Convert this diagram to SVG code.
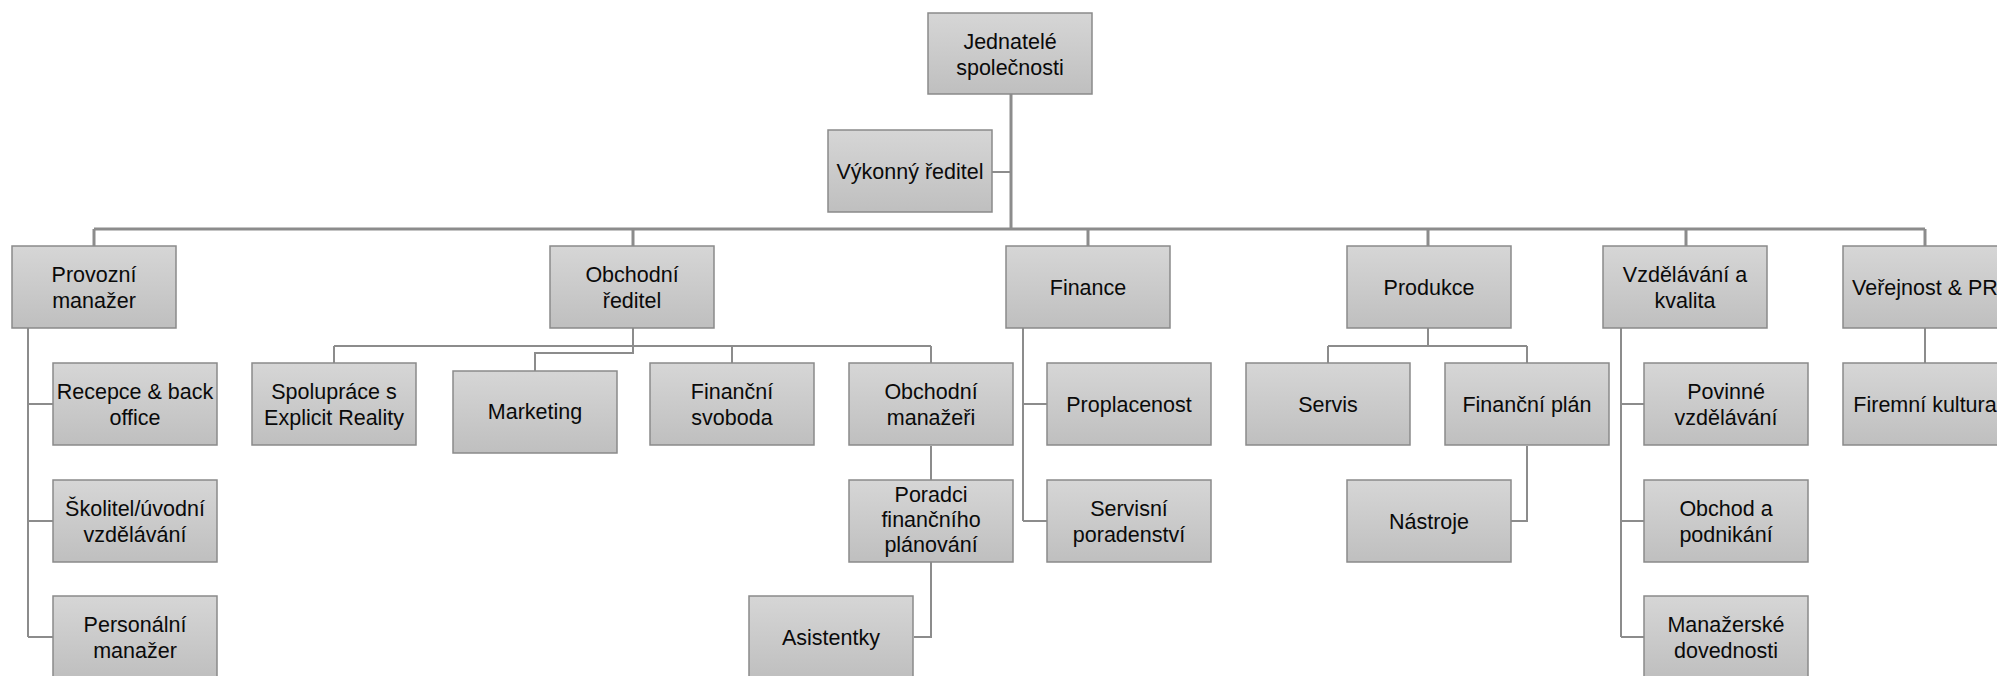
<svg xmlns="http://www.w3.org/2000/svg" width="1997" height="676" viewBox="0 0 1997 676">
<defs>
<linearGradient id="g" x1="0" y1="0" x2="0" y2="1">
<stop offset="0" stop-color="#d6d6d6"/>
<stop offset="1" stop-color="#bfbfbf"/>
</linearGradient>
<style>
.box{fill:url(#g);stroke:#8a8a8a;stroke-width:1.5}
.t{font-family:"Liberation Sans",Arial,sans-serif;font-size:21.5px;fill:#0a0a0a;text-anchor:middle}
.c{fill:none;stroke:#8c8c8c;stroke-width:2}
.cm{fill:none;stroke:#8c8c8c;stroke-width:3}
</style>
</defs>
<rect width="1997" height="676" fill="#fff"/>
<g id="connectors">
<path class="cm" d="M1011 94 V229 M94 229 H1925 M94 229 V246 M633 229 V246 M1088 229 V246 M1428 229 V246 M1686 229 V246 M1925 229 V246"/>
<path class="c" d="M992 172 H1011"/>
<path class="c" d="M28 328 V637 M28 404 H53 M28 521 H53 M28 637 H53"/>
<path class="c" d="M633 328 V353 H535 V371 M334 346 H931 M334 346 V363 M732 346 V363 M931 346 V363"/>
<path class="c" d="M931 446 V480 M931 562 V637 H914"/>
<path class="c" d="M1023 328 V521 M1023 404 H1047 M1023 521 H1047"/>
<path class="c" d="M1428 328 V346 M1328 346 H1527 M1328 346 V363 M1527 346 V363 M1527 446 V521 H1511"/>
<path class="c" d="M1621 328 V637 M1621 404 H1644 M1621 521 H1644 M1621 637 H1644"/>
<path class="c" d="M1925 328 V363"/>
</g>
<g id="jednatele"><rect class="box" x="928" y="13" width="164" height="81"/><text class="t" x="1010" y="49">Jednatelé</text><text class="t" x="1010" y="75">společnosti</text></g>
<g id="vykonny"><rect class="box" x="828" y="130" width="164" height="82"/><text class="t" x="910" y="179">Výkonný ředitel</text></g>
<g id="provozni"><rect class="box" x="12" y="246" width="164" height="82"/><text class="t" x="94" y="282">Provozní</text><text class="t" x="94" y="308">manažer</text></g>
<g id="recepce"><rect class="box" x="53" y="363" width="164" height="82"/><text class="t" x="135" y="399">Recepce &amp; back</text><text class="t" x="135" y="425">office</text></g>
<g id="skolitel"><rect class="box" x="53" y="480" width="164" height="82"/><text class="t" x="135" y="516">Školitel/úvodní</text><text class="t" x="135" y="542">vzdělávání</text></g>
<g id="personalni"><rect class="box" x="53" y="596" width="164" height="82"/><text class="t" x="135" y="632">Personální</text><text class="t" x="135" y="658">manažer</text></g>
<g id="obchodni-reditel"><rect class="box" x="550" y="246" width="164" height="82"/><text class="t" x="632" y="282">Obchodní</text><text class="t" x="632" y="308">ředitel</text></g>
<g id="spoluprace"><rect class="box" x="252" y="363" width="164" height="82"/><text class="t" x="334" y="399">Spolupráce s</text><text class="t" x="334" y="425">Explicit Reality</text></g>
<g id="marketing"><rect class="box" x="453" y="371" width="164" height="82"/><text class="t" x="535" y="419">Marketing</text></g>
<g id="financni-svoboda"><rect class="box" x="650" y="363" width="164" height="82"/><text class="t" x="732" y="399">Finanční</text><text class="t" x="732" y="425">svoboda</text></g>
<g id="obchodni-manazeri"><rect class="box" x="849" y="363" width="164" height="82"/><text class="t" x="931" y="399">Obchodní</text><text class="t" x="931" y="425">manažeři</text></g>
<g id="poradci"><rect class="box" x="849" y="480" width="164" height="82"/><text class="t" x="931" y="502">Poradci</text><text class="t" x="931" y="527">finančního</text><text class="t" x="931" y="552">plánování</text></g>
<g id="asistentky"><rect class="box" x="749" y="596" width="164" height="82"/><text class="t" x="831" y="645">Asistentky</text></g>
<g id="finance"><rect class="box" x="1006" y="246" width="164" height="82"/><text class="t" x="1088" y="295">Finance</text></g>
<g id="proplacenost"><rect class="box" x="1047" y="363" width="164" height="82"/><text class="t" x="1129" y="412">Proplacenost</text></g>
<g id="servisni"><rect class="box" x="1047" y="480" width="164" height="82"/><text class="t" x="1129" y="516">Servisní</text><text class="t" x="1129" y="542">poradenství</text></g>
<g id="produkce"><rect class="box" x="1347" y="246" width="164" height="82"/><text class="t" x="1429" y="295">Produkce</text></g>
<g id="servis"><rect class="box" x="1246" y="363" width="164" height="82"/><text class="t" x="1328" y="412">Servis</text></g>
<g id="financni-plan"><rect class="box" x="1445" y="363" width="164" height="82"/><text class="t" x="1527" y="412">Finanční plán</text></g>
<g id="nastroje"><rect class="box" x="1347" y="480" width="164" height="82"/><text class="t" x="1429" y="529">Nástroje</text></g>
<g id="vzdelavani"><rect class="box" x="1603" y="246" width="164" height="82"/><text class="t" x="1685" y="282">Vzdělávání a</text><text class="t" x="1685" y="308">kvalita</text></g>
<g id="povinne"><rect class="box" x="1644" y="363" width="164" height="82"/><text class="t" x="1726" y="399">Povinné</text><text class="t" x="1726" y="425">vzdělávání</text></g>
<g id="obchod"><rect class="box" x="1644" y="480" width="164" height="82"/><text class="t" x="1726" y="516">Obchod a</text><text class="t" x="1726" y="542">podnikání</text></g>
<g id="manazerske"><rect class="box" x="1644" y="596" width="164" height="82"/><text class="t" x="1726" y="632">Manažerské</text><text class="t" x="1726" y="658">dovednosti</text></g>
<g id="verejnost"><rect class="box" x="1843" y="246" width="164" height="82"/><text class="t" x="1925" y="295">Veřejnost &amp; PR</text></g>
<g id="firemni"><rect class="box" x="1843" y="363" width="164" height="82"/><text class="t" x="1925" y="412">Firemní kultura</text></g>
</svg>
